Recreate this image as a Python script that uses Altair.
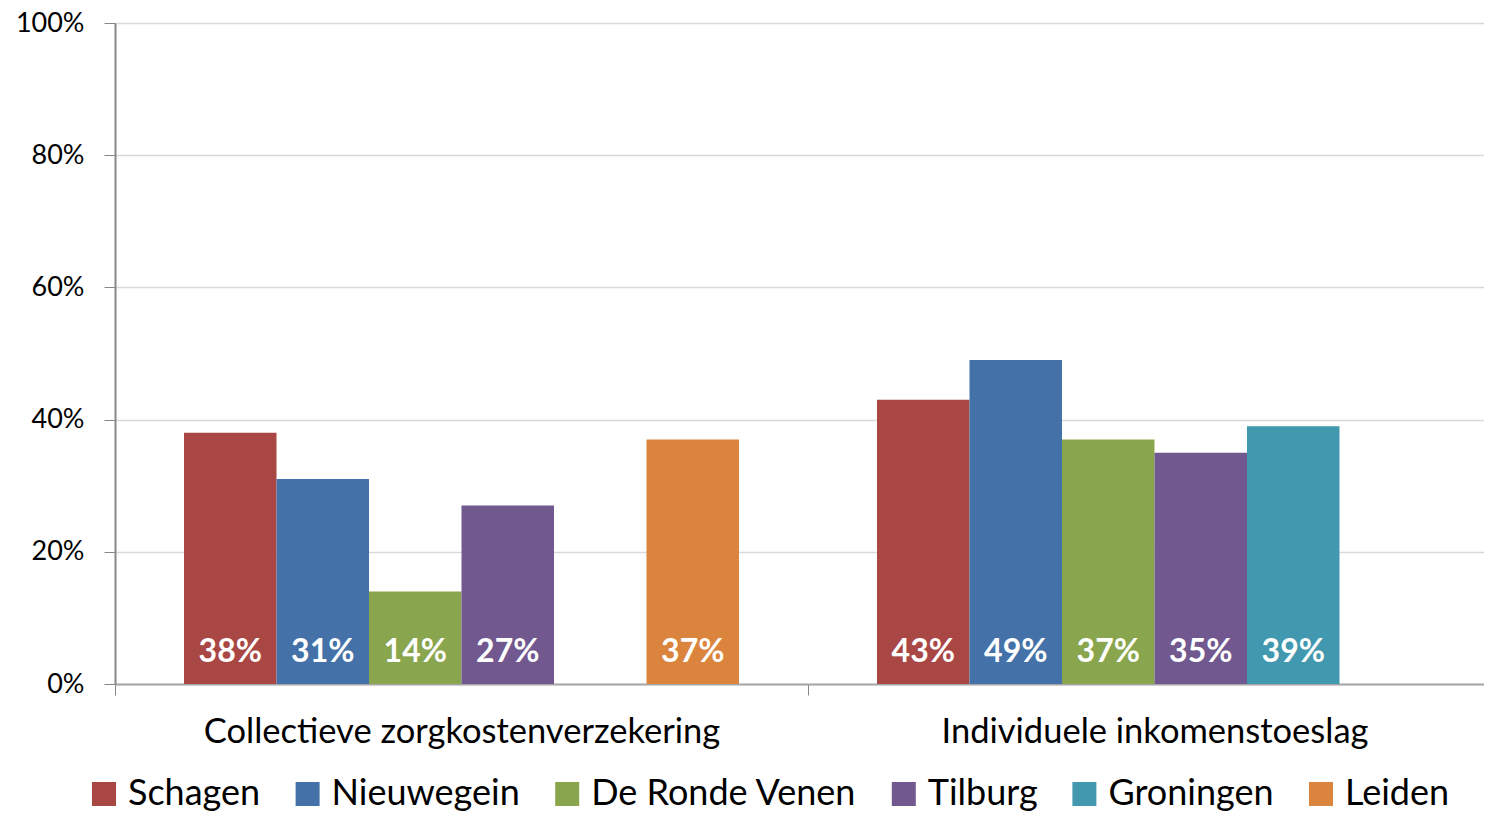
import altair as alt
import pandas as pd

groups = ["Collectieve zorgkostenverzekering", "Individuele inkomenstoeslag"]
series = ["Schagen", "Nieuwegein", "De Ronde Venen", "Tilburg", "Groningen", "Leiden"]
colors = ["#A94744", "#4472A8", "#89A54E", "#71588F", "#4198AF", "#DB843D"]

group_col = ["Collectieve zorgkostenverzekering"] * 5 + ["Individuele inkomenstoeslag"] * 5
series_col = ["Schagen", "Nieuwegein", "De Ronde Venen", "Tilburg", "Leiden",
              "Schagen", "Nieuwegein", "De Ronde Venen", "Tilburg", "Groningen"]
values = [0.38, 0.31, 0.14, 0.27, 0.37, 0.43, 0.49, 0.37, 0.35, 0.39]

df = pd.DataFrame({"groep": group_col, "gemeente": series_col, "waarde": values})

FONT = "Lato"

x = alt.X("groep:N", sort=groups, title=None,
          scale=alt.Scale(domain=groups, paddingInner=0, paddingOuter=0),
          axis=alt.Axis(labelAngle=0, labelFontSize=34.5, labelColor="#000000", labelFont=FONT,
                        labelPadding=20, labelLimit=900, tickBand="extent", tickSize=11,
                        tickColor="#888888", domainColor="#A6A6A6", domainWidth=2, grid=False))
xo = alt.XOffset("gemeente:N", sort=series,
                 scale=alt.Scale(domain=series, paddingInner=0, paddingOuter=0.746))
y = alt.Y("waarde:Q", title=None,
          scale=alt.Scale(domain=[0, 1], nice=False),
          axis=alt.Axis(format=".0%", values=[0, 0.2, 0.4, 0.6, 0.8, 1.0], labelFontSize=27,
                        labelFont=FONT, labelColor="#000000", labelPadding=20, tickSize=11,
                        tickColor="#888888", domainColor="#888888", domainWidth=2,
                        gridColor="#D9D9D9", gridWidth=1.5))

color = alt.Color("gemeente:N", sort=series,
                  scale=alt.Scale(domain=series, range=colors),
                  legend=alt.Legend(title=None, orient="none", legendX=-29, legendY=753,
                                    direction="horizontal",
                                    columns=6, symbolType="square", symbolSize=576,
                                    symbolStrokeWidth=0, symbolOpacity=1,
                                    labelFontSize=36, labelFont=FONT, labelColor="#000000",
                                    columnPadding=28.6, labelOffset=6,
                                    labelLimit=400))

bars = alt.Chart(df).mark_bar(opacity=1).encode(x=x, xOffset=xo, y=y, color=color)

labels = alt.Chart(df).mark_text(color="white", fontWeight="bold", fontSize=32, font=FONT,
                                 baseline="middle", align="center", dy=-32).encode(
    x=alt.X("groep:N", sort=groups),
    xOffset=alt.XOffset("gemeente:N", sort=series),
    y=alt.datum(0),
    text=alt.Text("waarde:Q", format=".0%"),
)

chart = (bars + labels).properties(
    width=1386, height=661,
    autosize=alt.AutoSizeParams(type="none"),
    padding={"left": 107, "top": 15, "right": -17, "bottom": 128},
).configure_view(stroke=None).configure(background="white")

chart.save("out.html", embed_options={"renderer": "svg", "actions": False})
